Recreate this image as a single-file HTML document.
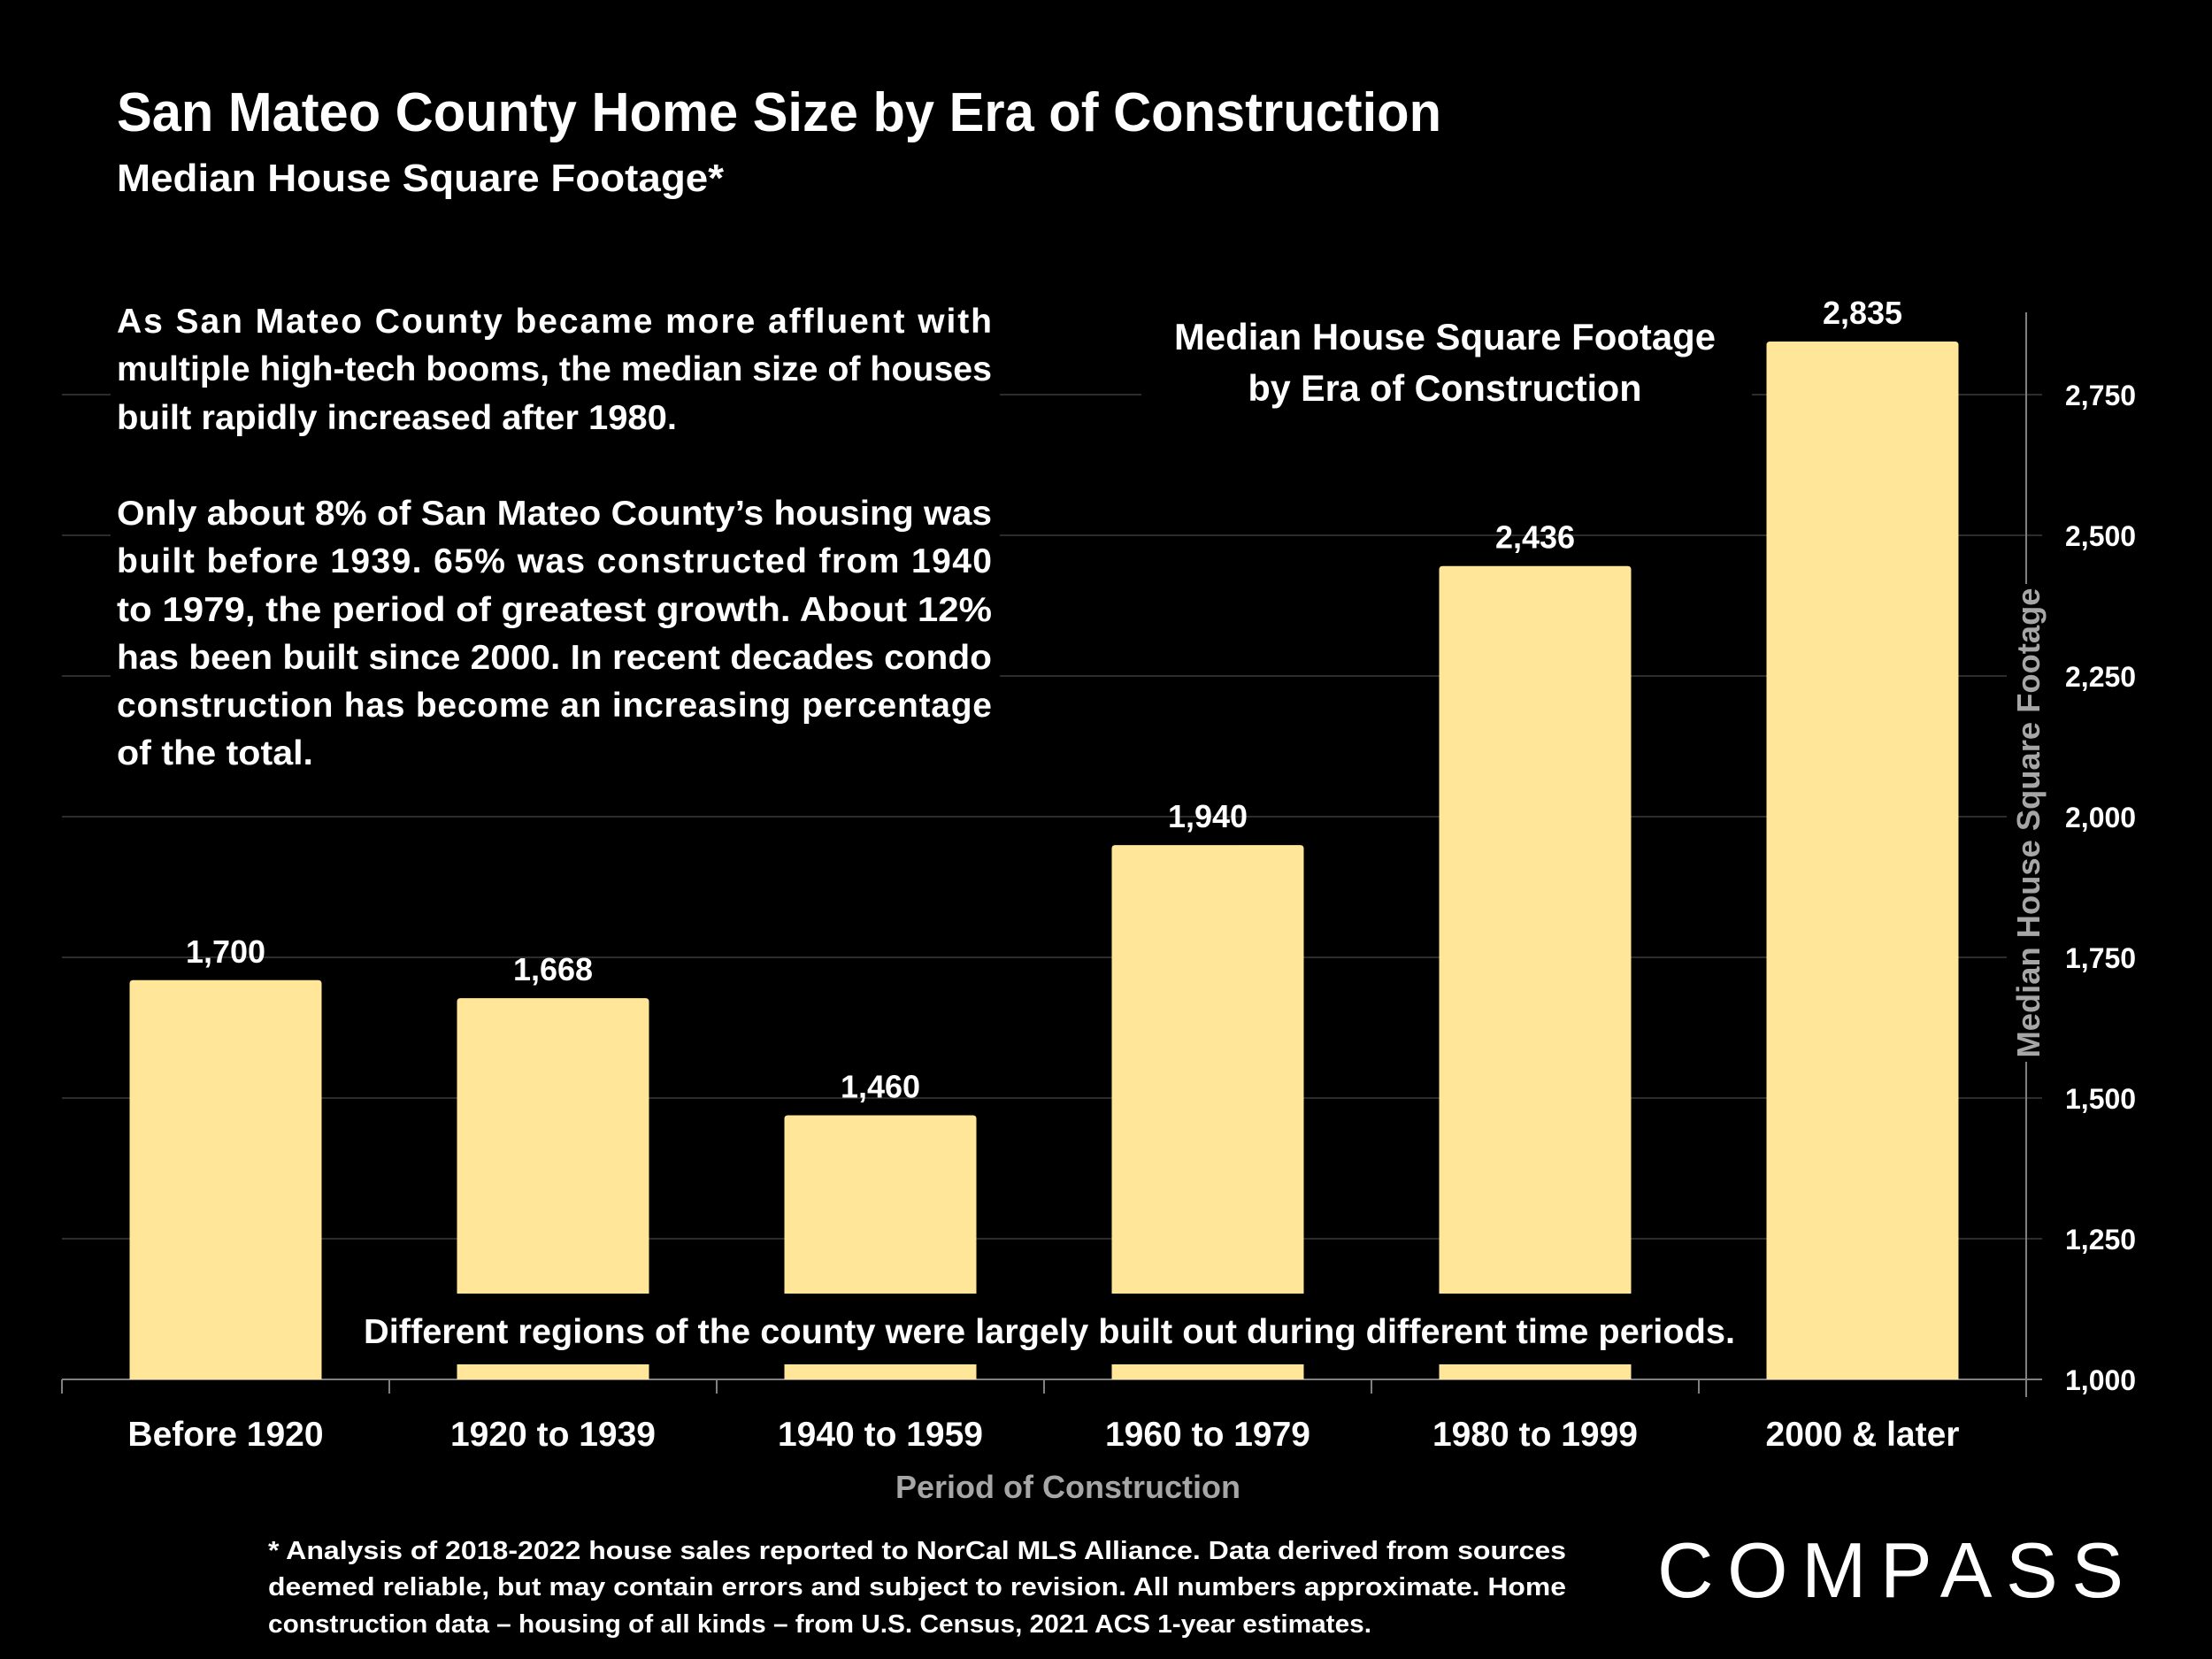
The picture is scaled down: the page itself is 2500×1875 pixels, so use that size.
<!DOCTYPE html>
<html><head><meta charset="utf-8"><style>
html,body{margin:0;padding:0;background:#000;}
svg{display:block;}
text{font-family:"Liberation Sans",sans-serif;font-weight:bold;fill:#fff;}
</style></head><body>
<svg id="chart" width="2500" height="1875" viewBox="0 0 2500 1875" xmlns="http://www.w3.org/2000/svg">
<rect width="2500" height="1875" fill="#000"/>
<g id="grid"></g>
<g id="bars"></g>
<g id="labels"></g>
<g id="yticks"></g>
<g id="xlabels"></g>

<text x="132" y="148" font-size="62" textLength="1497" lengthAdjust="spacingAndGlyphs">San Mateo County Home Size by Era of Construction</text>
<text x="132" y="216" font-size="44" textLength="686" lengthAdjust="spacingAndGlyphs">Median House Square Footage*</text>

<g>
<rect x="125" y="330" width="1005" height="555" fill="#000"/>
<g font-size="39">
<text x="132" y="376" textLength="989" lengthAdjust="spacing">As San Mateo County became more affluent with</text>
<text x="132" y="430" textLength="989" lengthAdjust="spacingAndGlyphs">multiple high-tech booms, the median size of houses</text>
<text x="132" y="485" textLength="633" lengthAdjust="spacingAndGlyphs">built rapidly increased after 1980.</text>
<text x="132" y="593" textLength="989" lengthAdjust="spacingAndGlyphs">Only about 8% of San Mateo County’s housing was</text>
<text x="132" y="647" textLength="989" lengthAdjust="spacing">built before 1939. 65% was constructed from 1940</text>
<text x="132" y="702" textLength="989" lengthAdjust="spacingAndGlyphs">to 1979, the period of greatest growth.  About 12%</text>
<text x="132" y="756" textLength="989" lengthAdjust="spacingAndGlyphs">has been built since 2000. In recent decades condo</text>
<text x="132" y="810" textLength="989" lengthAdjust="spacing">construction has become an increasing percentage</text>
<text x="132" y="864" textLength="222" lengthAdjust="spacingAndGlyphs">of the total.</text>
</g></g>

<g>
<rect x="1290" y="350" width="690" height="125" fill="#000"/>
<text x="1633" y="395" font-size="42" text-anchor="middle" textLength="612" lengthAdjust="spacingAndGlyphs">Median House Square Footage</text>
<text x="1633" y="453" font-size="42" text-anchor="middle" textLength="445" lengthAdjust="spacingAndGlyphs">by Era of Construction</text>
</g>

<g>
<rect x="385" y="1462" width="1592" height="80" fill="#000"/>
<text x="411" y="1518" font-size="39" textLength="1550" lengthAdjust="spacingAndGlyphs">Different regions of the county were largely built out during different time periods.</text>
</g>

<g>
<rect x="2268" y="660" width="46" height="540" fill="#000"/>
<text transform="translate(2305,930) rotate(-90)" font-size="36" style="fill:#a6a6a6" text-anchor="middle" textLength="531" lengthAdjust="spacingAndGlyphs">Median House Square Footage</text>
</g>
<text x="1207" y="1693" font-size="36" text-anchor="middle" style="fill:#a6a6a6" textLength="390" lengthAdjust="spacingAndGlyphs">Period of Construction</text>

<g font-size="29">
<text x="303" y="1762" textLength="1467" lengthAdjust="spacingAndGlyphs">* Analysis of 2018-2022 house sales reported to NorCal MLS Alliance.  Data derived from sources</text>
<text x="303" y="1803" textLength="1467" lengthAdjust="spacingAndGlyphs">deemed reliable, but may contain errors and subject to revision. All numbers approximate. Home</text>
<text x="303" y="1845" textLength="1247" lengthAdjust="spacingAndGlyphs">construction data – housing of all kinds – from U.S. Census, 2021 ACS 1-year estimates.</text>
</g>
<text x="1873" y="1805" font-size="88" style="font-weight:normal" textLength="527" lengthAdjust="spacing">COMPASS</text>
</svg>
<script>
const categories = ["Before 1920","1920 to 1939","1940 to 1959","1960 to 1979","1980 to 1999","2000 & later"];
const values = [1700,1668,1460,1940,2436,2835];
const valueLabels = ["1,700","1,668","1,460","1,940","2,436","2,835"];
const yTicks = [1000,1250,1500,1750,2000,2250,2500,2750];
const yTickLabels = ["1,000","1,250","1,500","1,750","2,000","2,250","2,500","2,750"];

const NS = "http://www.w3.org/2000/svg";
const yMin = 1000, yMax = 2750, y0 = 1559, y1 = 446;
function yScale(v){ return y0 - (v - yMin) / (yMax - yMin) * (y0 - y1); }
const xLeft = 70, band = 370, barW = 217;
function xCenter(i){ return xLeft + band * (i + 0.5); }
function mk(tag, attrs, parent){ const e = document.createElementNS(NS, tag); for (const k in attrs) e.setAttribute(k, attrs[k]); parent.appendChild(e); return e; }

const grid = document.getElementById('grid');
yTicks.forEach((t, i) => {
  const y = yScale(t);
  const l = mk('line', {x1: 70, x2: 2308, y1: y, y2: y, stroke: i === 0 ? '#808080' : '#3a3a3a', 'stroke-width': i === 0 ? 2 : 1.5}, grid);
  
  
  const tx = mk('text', {x: 2334, y: y + 12, 'font-size': 32}, document.getElementById('yticks'));
  tx.textContent = yTickLabels[i];
  
  
});
const ax = mk('line', {x1: 2290, x2: 2290, y1: 353, y2: 1579, stroke: '#808080', 'stroke-width': 2}, grid);


for (let i = 0; i <= categories.length; i++) {
  const x = xLeft + band * i;
  const tk = mk('line', {x1: x, x2: x, y1: y0, y2: y0 + 16, stroke: '#808080', 'stroke-width': 2}, grid);
  
  
}

categories.forEach((c, i) => {
  const cx = xCenter(i), top = yScale(values[i]) - 6;
  const b = mk('path', {d: `M${cx-barW/2},${y0} V${top+4} Q${cx-barW/2},${top} ${cx-barW/2+4},${top} H${cx+barW/2-4} Q${cx+barW/2},${top} ${cx+barW/2},${top+4} V${y0} Z`, fill: '#ffe699'}, document.getElementById('bars'));
  
  
  const vl = mk('text', {x: cx, y: top - 20, 'font-size': 36, 'text-anchor': 'middle'}, document.getElementById('labels'));
  vl.textContent = valueLabels[i];
  
  
  const xl = mk('text', {x: cx, y: 1634, 'font-size': 39, 'text-anchor': 'middle'}, document.getElementById('xlabels'));
  xl.textContent = c;
  
  
});
</script>
</body></html>
